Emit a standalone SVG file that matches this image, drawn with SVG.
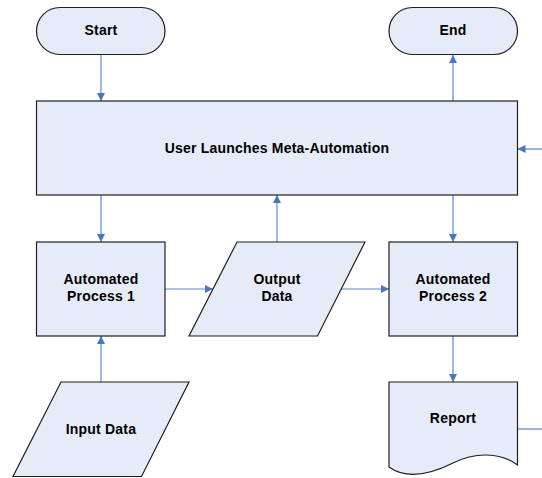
<svg xmlns="http://www.w3.org/2000/svg" width="542" height="478" viewBox="0 0 542 478">
  <style>
    .shape { fill: #E6ECF7; stroke: #1F1F1F; stroke-width: 1.2; }
    .label { font-family: "Liberation Sans", Arial, sans-serif; font-size: 14px; font-weight: bold; letter-spacing: 0.2px; fill: #000; text-anchor: middle; }
    .conn { stroke: #5B86C8; stroke-width: 1.2; fill: none; }
  </style>
  <defs>
    <marker id="arrow" viewBox="0 0 10 10" refX="10" refY="5" markerWidth="8" markerHeight="8" markerUnits="userSpaceOnUse" orient="auto">
      <path d="M0,0 L10,5 L0,10 Z" fill="#4A76BE"/>
    </marker>
  </defs>
  <rect width="542" height="478" fill="#FFFFFF"/>

  <g id="connectors">
    <line class="conn" x1="101" y1="55" x2="101" y2="101" marker-end="url(#arrow)"/>
    <line class="conn" x1="453" y1="101" x2="453" y2="55" marker-end="url(#arrow)"/>
    <line class="conn" x1="542" y1="149" x2="517.5" y2="149" marker-end="url(#arrow)"/>
    <line class="conn" x1="101" y1="195" x2="101" y2="242" marker-end="url(#arrow)"/>
    <line class="conn" x1="277" y1="242" x2="277" y2="195" marker-end="url(#arrow)"/>
    <line class="conn" x1="453" y1="195" x2="453" y2="242" marker-end="url(#arrow)"/>
    <line class="conn" x1="165" y1="289" x2="213" y2="289" marker-end="url(#arrow)"/>
    <line class="conn" x1="341" y1="289" x2="389" y2="289" marker-end="url(#arrow)"/>
    <line class="conn" x1="101" y1="382" x2="101" y2="336" marker-end="url(#arrow)"/>
    <line class="conn" x1="453" y1="336" x2="453" y2="382" marker-end="url(#arrow)"/>
    <line class="conn" x1="517.5" y1="429" x2="542" y2="429"/>
  </g>

  <g id="start">
    <rect class="shape" x="36.5" y="7.5" width="128.5" height="47" rx="23.5" ry="23.5"/>
    <text class="label" x="101" y="35">Start</text>
  </g>

  <g id="end">
    <rect class="shape" x="389" y="7.5" width="128.5" height="47" rx="23.5" ry="23.5"/>
    <text class="label" x="453" y="35">End</text>
  </g>

  <g id="launch">
    <rect class="shape" x="36.5" y="101" width="481" height="94"/>
    <text class="label" x="277" y="153">User Launches Meta-Automation</text>
  </g>

  <g id="process1">
    <rect class="shape" x="36.5" y="242" width="128.5" height="94"/>
    <text class="label" x="101" y="284">Automated</text>
    <text class="label" x="101" y="300.5">Process 1</text>
  </g>

  <g id="output">
    <polygon class="shape" points="237,242 365,242 317.5,336 189,336"/>
    <text class="label" x="277" y="284">Output</text>
    <text class="label" x="277" y="300.5">Data</text>
  </g>

  <g id="process2">
    <rect class="shape" x="389" y="242" width="128.5" height="94"/>
    <text class="label" x="453" y="284">Automated</text>
    <text class="label" x="453" y="300.5">Process 2</text>
  </g>

  <g id="input">
    <polygon class="shape" points="61,382 189,382 141.5,476.5 13,476.5"/>
    <text class="label" x="101" y="434">Input Data</text>
  </g>

  <g id="report">
    <path class="shape" d="M389,382 H517.5 V465 C500,452 475,452 453,463 C431,474 407,480 389,467 Z"/>
    <text class="label" x="453" y="422.5">Report</text>
  </g>
</svg>
